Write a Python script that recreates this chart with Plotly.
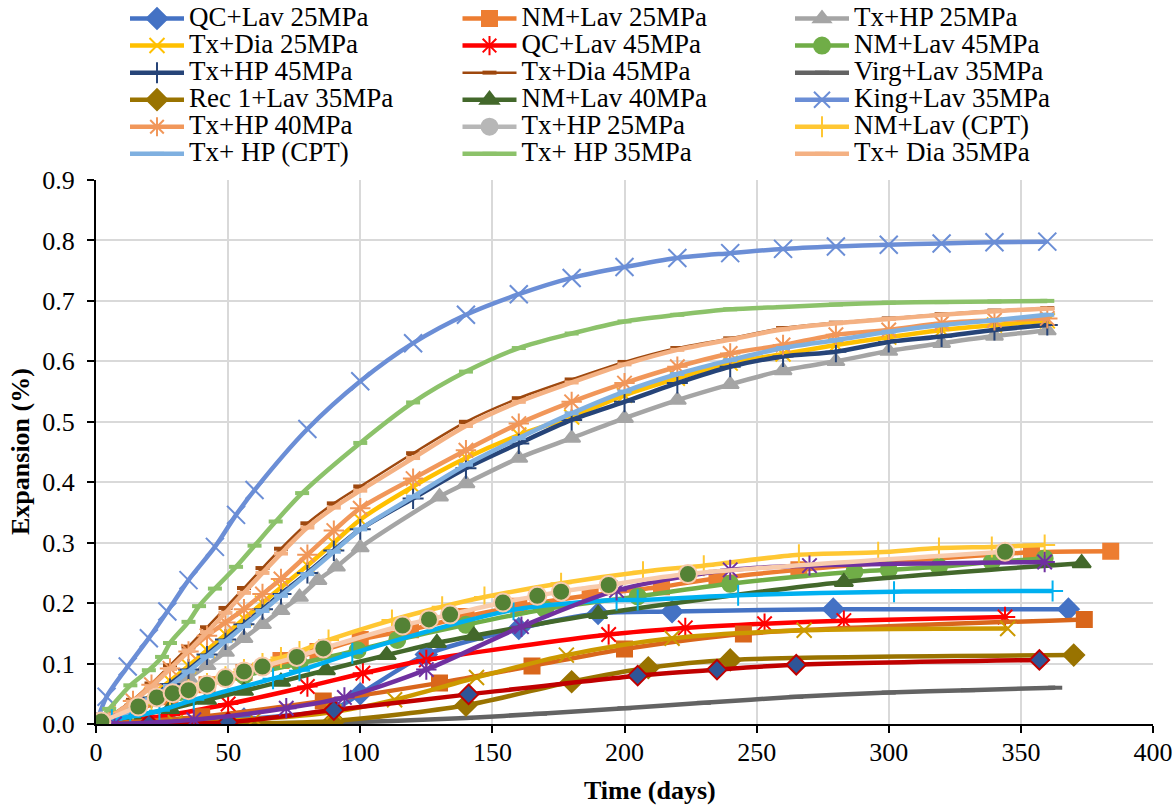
import plotly.graph_objects as go

# ---------------- data ----------------
D_UP = [0, 7, 14, 21, 28, 35, 42, 49, 56, 63, 70, 80, 90, 100, 120, 140, 160, 180, 200, 220, 240, 260, 280, 300, 320, 340, 360]

king_days = [0, 4, 12, 20, 27, 35, 45, 53, 60, 80, 100, 120, 140, 160, 180, 200, 220, 240, 260, 280, 300, 320, 340, 360]
king_vals = [0, 0.045, 0.095, 0.142, 0.186, 0.238, 0.293, 0.346, 0.387, 0.488, 0.567, 0.630, 0.677, 0.711, 0.738, 0.756, 0.771, 0.779, 0.786, 0.790, 0.793, 0.795, 0.797, 0.798]

hp35_days = [0, 5, 13, 20, 25, 28, 35, 39, 45, 53, 60, 68, 78, 100, 120, 140, 160, 180, 200, 220, 240, 260, 280, 300, 320, 340, 360]
hp35_vals = [0, 0.025, 0.064, 0.089, 0.111, 0.134, 0.169, 0.195, 0.224, 0.260, 0.295, 0.335, 0.382, 0.465, 0.532, 0.583, 0.622, 0.646, 0.666, 0.677, 0.686, 0.690, 0.694, 0.697, 0.698, 0.699, 0.700]

dia45_vals = [0, .018, .040, .067, .097, .128, .160, .192, .225, .258, .290, .332, .365, .393, .448, .500, .539, .570, .599, .622, .638, .655, .664, .671, .678, .684, .688]
dia35_vals = [0, .016, .037, .062, .091, .121, .152, .184, .217, .250, .282, .325, .358, .386, .440, .493, .533, .565, .595, .619, .636, .653, .663, .670, .677, .683, .687]
hp40_vals = [0, .016, .038, .065, .092, .120, .146, .168, .190, .215, .240, .280, .320, .357, .406, .453, .497, .533, .564, .591, .613, .627, .644, .652, .663, .668, .671]
dia25_vals = [0, .012, .028, .048, .071, .096, .122, .148, .174, .200, .226, .262, .300, .338, .393, .440, .478, .508, .544, .572, .597, .612, .627, .640, .652, .660, .667]
hp45_vals = [0, .010, .025, .044, .066, .090, .115, .140, .165, .190, .215, .250, .287, .322, .373, .423, .464, .503, .533, .564, .591, .608, .616, .632, .641, .652, .660]
hpcpt_vals = [0, .009, .023, .041, .063, .087, .112, .137, .162, .187, .212, .248, .285, .322, .376, .429, .473, .514, .550, .579, .602, .622, .635, .649, .660, .668, .677]

hp25_days = [0, 7, 14, 21, 28, 35, 42, 49, 56, 63, 70, 77, 84, 91, 100, 130, 140, 160, 180, 200, 220, 240, 260, 280, 300, 320, 340, 360]
hp25_vals = [0, .008, .022, .039, .057, .076, .097, .119, .142, .165, .188, .210, .238, .260, .292, .376, .398, .440, .473, .506, .536, .562, .585, .600, .617, .630, .642, .651]

qc25_days = [0, 14, 28, 56, 90, 100, 125, 160, 190, 218, 279, 368]
qc25_vals = [0, 0, 0.002, 0.008, 0.025, 0.05, 0.115, 0.158, 0.183, 0.186, 0.190, 0.190]

nm25_days = [0, 14, 28, 42, 56, 70, 84, 100, 119, 140, 160, 187, 214, 235, 266, 354, 384]
nm25_vals = [0, 0.020, 0.045, 0.065, 0.085, 0.105, 0.120, 0.140, 0.156, 0.178, 0.195, 0.213, 0.227, 0.241, 0.255, 0.284, 0.286]

qc45_days = [0, 28, 50, 80, 101, 125, 194, 223, 253, 283, 344]
qc45_vals = [0, 0.015, 0.033, 0.062, 0.084, 0.106, 0.148, 0.159, 0.166, 0.171, 0.177]

nm45_days = [0, 14, 32, 56, 77, 99, 114, 140, 170, 205, 240, 287, 300, 319, 339, 359]
nm45_vals = [0, 0.025, 0.053, 0.080, 0.100, 0.122, 0.139, 0.164, 0.190, 0.211, 0.232, 0.252, 0.255, 0.260, 0.268, 0.274]

virg_days = [0, 28, 56, 84, 112, 140, 168, 200, 230, 265, 300, 330, 363]
virg_vals = [0, 0, 0.001, 0.002, 0.005, 0.010, 0.017, 0.026, 0.035, 0.045, 0.052, 0.056, 0.060]

rec_days = [0, 40, 90, 140, 180, 209, 240, 370]
rec_vals = [0, 0, 0.005, 0.031, 0.070, 0.093, 0.106, 0.114]

nm40_days = [0, 14, 28, 42, 56, 70, 87, 110, 129, 143, 190, 283, 373]
nm40_vals = [0, 0.012, 0.025, 0.040, 0.055, 0.070, 0.089, 0.114, 0.134, 0.146, 0.182, 0.235, 0.266]

hp25c_days = [0, 2]
hp25c_vals = [0, 0.001]

nmcpt_days = [0, 7, 14, 21, 28, 35, 42, 49, 56, 63, 70, 77, 88, 112, 131, 147, 176, 207, 230, 266, 296, 319, 339, 359]
nmcpt_vals = [0, 0.012, 0.025, 0.037, 0.048, 0.057, 0.067, 0.078, 0.090, 0.100, 0.110, 0.120, 0.139, 0.172, 0.194, 0.210, 0.233, 0.252, 0.262, 0.280, 0.284, 0.291, 0.293, 0.296]

# series not shown in the legend
purple_days = [0, 7, 37, 72, 94, 125, 161, 197, 240, 270, 359]
purple_vals = [0, 0, 0.007, 0.026, 0.044, 0.090, 0.161, 0.221, 0.255, 0.262, 0.268]

cyan_days = [0, 6, 13, 24, 37, 67, 77, 97, 158, 197, 205, 243, 302, 362]
cyan_vals = [0, 0.007, 0.012, 0.022, 0.040, 0.075, 0.088, 0.117, 0.189, 0.205, 0.205, 0.213, 0.219, 0.220]

dred_days = [0, 20, 50, 90, 141, 205, 235, 265, 357]
dred_vals = [0, 0, 0.003, 0.023, 0.049, 0.080, 0.090, 0.098, 0.106]

gold_days = [0, 30, 60, 90, 113, 144, 178, 218, 268, 345]
gold_vals = [0, 0.002, 0.008, 0.020, 0.040, 0.077, 0.114, 0.142, 0.155, 0.158]

dorange_days = [0, 40, 86, 130, 165, 200, 245, 374]
dorange_vals = [0, 0.012, 0.038, 0.068, 0.096, 0.124, 0.149, 0.173]

dgc_days = [0, 2, 16, 23, 29, 35, 42, 49, 56, 63, 76, 86, 116, 126, 134, 154, 167, 176, 194, 224, 344]
dgc_vals = [0, 0.004, 0.029, 0.044, 0.051, 0.056, 0.065, 0.076, 0.087, 0.095, 0.111, 0.125, 0.163, 0.173, 0.181, 0.201, 0.212, 0.219, 0.230, 0.248, 0.285]

x_ticks = [0, 50, 100, 150, 200, 250, 300, 350, 400]
y_ticks = [0, 0.1, 0.2, 0.3, 0.4, 0.5, 0.6, 0.7, 0.8, 0.9]

FONT = "Liberation Serif"

fig = go.Figure()


def add(name, x, y, color, symbol, size=13, lw=4.5, mline=None, mfill=None, mlw=2, show=True):
    marker = dict(symbol=symbol, size=size, color=mfill or color,
                  line=dict(color=mline or color, width=mlw))
    fig.add_trace(go.Scatter(
        x=x, y=y, mode="lines+markers",
        name=f'<span style="font-size:27px">{name}</span>',
        line=dict(color=color, width=lw, shape="spline", smoothing=0.8),
        marker=marker, showlegend=show, hoverinfo="skip"))


add("QC+Lav 25MPa", qc25_days, qc25_vals, "#4472C4", "diamond", size=16)
add("NM+Lav 25MPa", nm25_days, nm25_vals, "#ED7D31", "square", size=15)
add("Tx+HP 25MPa", hp25_days, hp25_vals, "#A5A5A5", "triangle-up", size=15)
add("Tx+Dia 25MPa", D_UP, dia25_vals, "#FFC000", "x-thin-open", size=15, mlw=2)
add("QC+Lav 45MPa", qc45_days, qc45_vals, "#FF0000", "asterisk-open", size=17, mlw=2)
add("NM+Lav 45MPa", nm45_days, nm45_vals, "#70AD47", "circle", size=16)
add("Tx+HP 45MPa", D_UP, hp45_vals, "#264478", "cross-thin-open", size=15, mlw=2)
add("Tx+Dia 45MPa", D_UP, dia45_vals, "#9E480E", "line-ew-open", size=10, lw=2.5, mlw=4)
add("Virg+Lav 35MPa", virg_days, virg_vals, "#636363", "line-ew-open", size=10, mlw=4)
add("Rec 1+Lav 35MPa", rec_days, rec_vals, "#997300", "diamond", size=16)
add("NM+Lav 40MPa", nm40_days, nm40_vals, "#43682B", "triangle-up", size=16)
add("King+Lav 35MPa", king_days, king_vals, "#6B8ED6", "x-thin-open", size=18, mlw=2)
add("Tx+HP 40MPa", D_UP, hp40_vals, "#F1975A", "asterisk-open", size=17, mlw=2)
add("Tx+HP 25MPa", hp25c_days, hp25c_vals, "#B7B7B7", "circle", size=16)
add("NM+Lav (CPT)", nmcpt_days, nmcpt_vals, "#FFC733", "cross-thin-open", size=15, mlw=2)
add("Tx+ HP (CPT)", D_UP, hpcpt_vals, "#7FB0E0", "line-ew-open", size=10, mlw=4)
add("Tx+ HP 35MPa", hp35_days, hp35_vals, "#8CC26A", "line-ew-open", size=10, mlw=4)
add("Tx+ Dia 35MPa", D_UP, dia35_vals, "#F4B183", "line-ew-open", size=10, mlw=4)

add("s19", dorange_days, dorange_vals, "#D9661B", "square", size=15, show=False)
add("s20", gold_days, gold_vals, "#CC9900", "x-thin-open", size=15, mlw=2, show=False)
add("s21", dred_days, dred_vals, "#C00000", "diamond", size=15, mfill="#2F5597", mline="#C00000", show=False)
add("s22", cyan_days, cyan_vals, "#00B0F0", "cross-thin-open", size=15, mlw=2, show=False)
add("s23", purple_days, purple_vals, "#7030A0", "asterisk-open", size=17, mlw=2, show=False)
add("s24", dgc_days, dgc_vals, "#F8CBAD", "circle", size=18, mfill="#548235", mline="#F8CBAD", show=False)

W, H = 1175, 807
fig.update_layout(
    width=W, height=H,
    margin=dict(l=96, r=22, t=180, b=83, autoexpand=False),
    paper_bgcolor="white", plot_bgcolor="white",
    font=dict(family=FONT, color="black"),
    showlegend=True,
    legend=dict(
        orientation="h", xref="container", yref="paper",
        x=125 / W, y=1 + 180 / 544, xanchor="left", yanchor="top",
        entrywidth=263.5, entrywidthmode="pixels", itemwidth=54,
        font=dict(family=FONT, size=18.5, color="black"),
        bgcolor="rgba(0,0,0,0)", tracegroupgap=0, traceorder="normal",
    ),
    xaxis=dict(
        range=[0, 400], tickvals=x_ticks, showgrid=True, gridcolor="#D9D9D9", gridwidth=2,
        showline=True, linecolor="black", linewidth=2, ticks="outside", ticklen=7,
        tickwidth=2, tickcolor="black", zeroline=False, mirror=False,
        ticklabelstandoff=-3,
        tickfont=dict(family=FONT, size=26),
    ),
    yaxis=dict(
        range=[0, 0.9], tickvals=y_ticks, tickformat=".1f", showgrid=True, gridcolor="#D9D9D9",
        gridwidth=2, showline=True, linecolor="black", linewidth=2, ticks="outside", ticklen=7,
        tickwidth=2, tickcolor="black", zeroline=False, ticklabelstandoff=7,
        tickfont=dict(family=FONT, size=26),
    ),
    annotations=[
        dict(text="<b>Time (days)</b>", xref="paper", yref="paper",
             x=(650 - 96) / 1057, y=-66 / 544, xanchor="center", yanchor="middle",
             showarrow=False, font=dict(family=FONT, size=26, color="black")),
        dict(text="<b>Expansion (%)</b>", xref="paper", yref="paper",
             x=-(96 - 20) / 1057, y=0.5, xanchor="center", yanchor="middle",
             textangle=-90, showarrow=False, font=dict(family=FONT, size=26, color="black")),
    ],
)

fig.write_html("out.html", config={"displayModeBar": False},
               post_script="document.body.style.margin='0px';document.body.style.overflow='hidden';")
